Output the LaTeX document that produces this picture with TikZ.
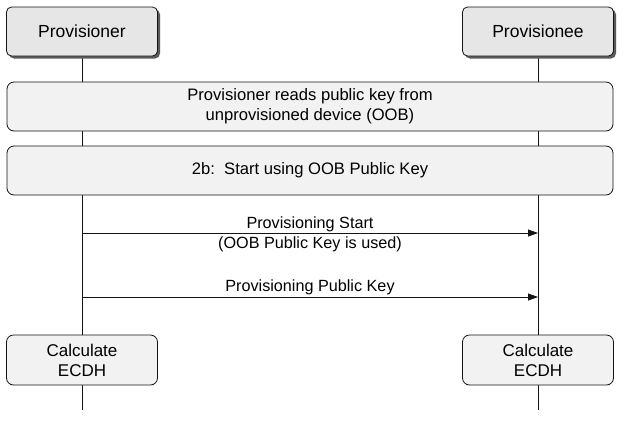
\documentclass[tikz,border=0pt]{standalone}
\usepackage{fontspec}
\setmainfont{Liberation Sans}
\usepackage{tikz}
\usetikzlibrary{arrows.meta,positioning,shadows,backgrounds}
\definecolor{ink}{RGB}{20,20,20}
\definecolor{headfill}{RGB}{230,230,230}
\definecolor{boxfill}{RGB}{242,242,242}
\definecolor{shade}{RGB}{90,90,90}

\begin{document}
\begin{tikzpicture}[
    x=1pt,y=-1pt,
    head/.style={draw=ink,line width=0.8pt,rounded corners=5pt,fill=headfill,
      minimum width=151pt,minimum height=49pt,inner sep=0pt,
      font=\fontsize{17.5}{20}\selectfont,
      drop shadow={shadow xshift=2.5pt,shadow yshift=-2.5pt,fill=shade,opacity=1}},
    wide/.style={draw=ink,line width=0.8pt,rounded corners=7pt,fill=boxfill,
      minimum width=606pt,minimum height=49pt,inner sep=0pt,align=center,
      font=\fontsize{16.6}{20}\selectfont},
    act/.style={draw=ink,line width=0.8pt,rounded corners=7pt,fill=boxfill,
      minimum width=151pt,minimum height=50pt,inner sep=0pt,align=center,
      font=\fontsize{17}{20}\selectfont},
    life/.style={draw=ink,line width=0.8pt},
    msg/.style={-{Triangle[length=10pt,width=7pt]},draw=ink,line width=0.8pt},
    lbl/.style={font=\fontsize{16.2}{19}\selectfont,inner sep=0pt,anchor=base},
  ]

  \useasboundingbox (0,0) rectangle (624,421);

  \def\xa{82}
  \def\xb{538}
  \def\ybot{410}

  % participants
  \node[head] (prov) at (\xa,31.5) {Provisioner};
  \node[head] (pee) at (\xb,31.5) {Provisionee};

  % shared steps
  \node[wide] (oob) at (310,106.5)
    {Provisioner reads public key from\\unprovisioned device (OOB)};
  \node[wide] (start) at (310,170.5) {2b:\ \ Start using OOB Public Key};

  % local steps
  \node[act] (calca) at (\xa,360) {Calculate\\ECDH};
  \node[act] (calcb) at (\xb,360) {Calculate\\ECDH};

  % lifelines
  \coordinate (enda) at (\xa,\ybot);
  \coordinate (endb) at (\xb,\ybot);
  \begin{scope}[on background layer]
    \draw[life] (prov.south) -- (enda);
    \draw[life] (pee.south) -- (endb);
  \end{scope}

  % messages
  \foreach \m/\y in {1/233, 2/297} {
    \coordinate (from\m) at (\xa,\y);
    \coordinate (to\m) at (\xb,\y);
    \draw[msg] (from\m) -- (to\m);
  }
  \node[lbl] (m1top) at (310,228.5) {Provisioning Start};
  \node[lbl] (m1bot) at (310,248.5) {(OOB Public Key is used)};
  \node[lbl] (m2top) at (310,291.5) {Provisioning Public Key};

\end{tikzpicture}
\end{document}
